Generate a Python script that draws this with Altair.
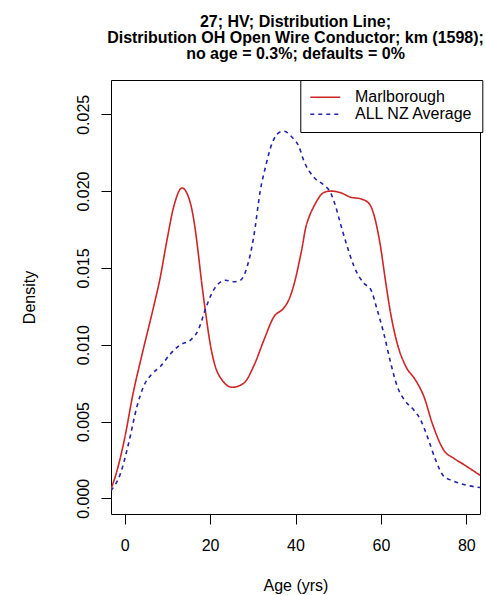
import altair as alt
import pandas as pd

# Marlborough density curve (age in years, density)
marl_age = [-3.2, -2.0, -0.23, 2.1, 4.1, 6.8, 8.2, 9.9, 11.5, 13.45, 15.4, 16.2, 17.0, 18.0,
            18.9, 20.0, 21.0, 22.8, 25.2, 27.9, 30.2, 32.6, 34.9, 37.3, 38.4, 39.2, 40.0, 40.8,
            41.6, 42.3, 43.3, 44.3, 46.6, 48.2, 50.5, 52.9, 55.2, 57.2, 58.7, 59.9, 61.1, 62.3,
            63.8, 65.8, 68.1, 70.1, 72.0, 74.8, 77.1, 79.4, 83.2]
marl_dens = [0.0006, 0.0016, 0.0036, 0.0070, 0.0094, 0.0125, 0.0142, 0.0168, 0.0190, 0.0202,
             0.0192, 0.0181, 0.0165, 0.0141, 0.0122, 0.0101, 0.0088, 0.0077, 0.00723, 0.0075,
             0.0086, 0.0103, 0.0118, 0.0124, 0.0129, 0.0135, 0.0143, 0.0153, 0.0164, 0.0175,
             0.0184, 0.0190, 0.0199, 0.0200, 0.0199, 0.0196, 0.0195, 0.0192, 0.0181, 0.0164,
             0.0141, 0.0120, 0.0101, 0.0086, 0.0077, 0.0066, 0.0049, 0.0031, 0.0026, 0.0022,
             0.0015]

# ALL NZ Average density curve
nz_age = [-3.2, -1.0, 0.94, 2.9, 4.45, 6.4, 8.4, 10.7, 13.05, 15.4, 17.3, 18.9, 20.5, 21.7,
          23.6, 25.5, 27.1, 28.7, 30.2, 31.8, 33.0, 34.5, 36.1, 37.3, 39.2, 40.8, 41.9, 44.3,
          46.6, 48.2, 49.4, 50.5, 52.1, 53.7, 56.0, 57.6, 59.1, 60.7, 62.3, 63.8, 65.8, 67.7,
          69.3, 70.9, 72.8, 74.8, 76.3, 79.4, 83.2]
nz_dens = [0.0005, 0.0016, 0.0036, 0.0060, 0.0073, 0.0081, 0.0086, 0.0094, 0.0100, 0.0103,
           0.0110, 0.0123, 0.0134, 0.0139, 0.0142, 0.0141, 0.0142, 0.0151, 0.0170, 0.0201,
           0.0216, 0.0231, 0.0238, 0.0239, 0.0235, 0.0229, 0.0220, 0.0209, 0.0204, 0.0199,
           0.0190, 0.0179, 0.0164, 0.0151, 0.0140, 0.0136, 0.0123, 0.0107, 0.0088, 0.0073,
           0.0063, 0.00575, 0.0051, 0.0040, 0.0025, 0.0014, 0.0012, 0.0009, 0.0007]

series_names = ["Marlborough", "ALL NZ Average"]
series_colors = ["#CD2626", "#2222AA"]
x_ticks = [0, 20, 40, 60, 80]
y_ticks = [0.0, 0.005, 0.010, 0.015, 0.020, 0.025]
title_lines = ["27; HV; Distribution Line;",
               "Distribution OH Open Wire Conductor; km (1598);",
               "no age = 0.3%; defaults = 0%"]

df = pd.concat([
    pd.DataFrame({"age": marl_age, "density": marl_dens, "series": series_names[0], "order": range(len(marl_age))}),
    pd.DataFrame({"age": nz_age, "density": nz_dens, "series": series_names[1], "order": range(len(nz_age))}),
])

FONT = "Liberation Sans"

legend_opts = dict(title=None, orient="none", legendX=189.3, legendY=0,
                   symbolType="stroke", symbolSize=900, symbolStrokeWidth=1.5,
                   labelFont=FONT, labelFontSize=16, labelColor="black",
                   labelOffset=13.7, clipHeight=16.6, rowPadding=0,
                   padding=9, strokeColor="black", fillColor="white",
                   cornerRadius=0)

chart = alt.Chart(df).mark_line(clip=True, strokeWidth=1.6, interpolate="monotone").encode(
    x=alt.X("age:Q",
            scale=alt.Scale(domain=[-3.2, 83.2], nice=False, zero=False),
            axis=alt.Axis(values=x_ticks, title="Age (yrs)", format="d",
                          labelPadding=13, titleX=184.5, titleY=71,
                          titleBaseline="middle", titleAlign="center")),
    y=alt.Y("density:Q",
            scale=alt.Scale(domain=[-0.00102, 0.02723], nice=False, zero=False),
            axis=alt.Axis(values=y_ticks, title="Density", format=".3f",
                          labelAngle=270, labelAlign="center", labelBaseline="bottom",
                          labelPadding=10, titleAngle=270, titleX=-82, titleY=217,
                          titleAlign="center", titleBaseline="middle")),
    color=alt.Color("series:N",
                    scale=alt.Scale(domain=series_names, range=series_colors),
                    legend=alt.Legend(**legend_opts)),
    strokeDash=alt.StrokeDash("series:N",
                              scale=alt.Scale(domain=series_names, range=[[1, 0], [4, 4]]),
                              legend=alt.Legend(**legend_opts)),
    order="order:Q",
).properties(
    width=369,
    height=434,
    title=alt.TitleParams(text=title_lines, font=FONT, fontSize=16, fontWeight="bold",
                          color="black", anchor="middle", frame="group", offset=18,
                          lineHeight=16),
    autosize=alt.AutoSizeParams(type="none"),
    padding={"left": 111, "top": 80, "right": 6, "bottom": 81},
    background="white",
).configure_view(
    stroke="black", strokeWidth=1
).configure_axis(
    domain=False, grid=False, tickColor="black", tickSize=10, tickWidth=1,
    labelFont=FONT, labelFontSize=16, labelColor="black",
    titleFont=FONT, titleFontSize=16, titleFontWeight="normal", titleColor="black",
)

chart.save("out.html", embed_options={"renderer": "svg", "actions": False})
